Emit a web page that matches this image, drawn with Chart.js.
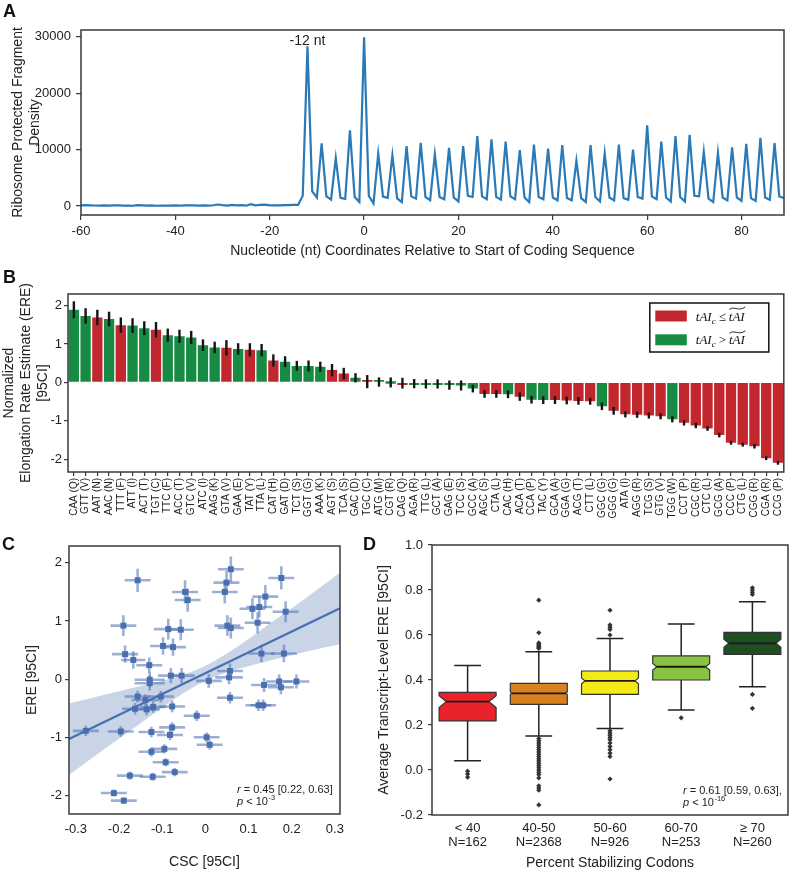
<!DOCTYPE html>
<html>
<head>
<meta charset="utf-8">
<script src="https://cdn.jsdelivr.net/npm/chart.js@4.4.1/dist/chart.umd.min.js"></script>
<style>
body { margin: 0; background: #fff; width: 792px; height: 873px; position: relative; overflow: hidden; }
canvas { position: absolute; }
</style>
</head>
<body>
<canvas id="chartA" width="792" height="265" style="left:0;top:0"></canvas>
<canvas id="chartB" width="792" height="265" style="left:0;top:265px"></canvas>
<canvas id="chartC" width="365" height="343" style="left:0;top:530px"></canvas>
<canvas id="chartD" width="437" height="343" style="left:355px;top:530px"></canvas>
<script>
// ---------- A: footprint density around the start codon
const ntStart = -60;
const fragmentDensity = [
  100,150,120,80,60,90,70,100,90,60,
  80,40,150,120,60,90,40,60,80,70,
  100,60,110,90,120,80,100,70,130,260,
  140,60,180,90,150,50,320,120,200,240,
  110,130,90,140,160,180,190,
  1800,28300,2600,1500,11100,1700,1150,8500,1450,1250,13400,1600,700,
  29900,1800,450,9300,1650,1450,9000,1350,700,
  10600,1700,1300,11200,1600,1000,9150,1600,1200,
  10300,1500,800,10600,1800,1600,12400,1700,1200,
  11800,1600,1100,11400,1700,1200,9900,1500,700,
  10900,1600,1200,10150,1500,1000,10800,1400,1000,
  8000,1400,700,10800,1600,800,9300,1500,1000,
  10900,1400,1100,10000,1600,1300,14300,1700,1200,
  11400,1500,800,12400,1600,800,12600,1800,1700,
  9600,1300,700,9400,1500,1000,10400,1500,900,
  11000,1400,900,12100,1500,1100,11150,1700,1400
];
const ntTicks = [-60, -40, -20, 0, 20, 40, 60, 80];
const densityTicks = [0, 10000, 20000, 30000];

// ---------- B: codon elongation rate estimates
const codons = ['CAA (Q)','GTT (V)','AAT (N)','AAC (N)','TTT (F)','ATT (I)','ACT (T)','TGT (C)','TTC (F)','ACC (T)',
  'GTC (V)','ATC (I)','AAG (K)','GTA (V)','GAA (E)','TAT (Y)','TTA (L)','CAT (H)','GAT (D)','TCT (S)',
  'GGT (G)','AAA (K)','AGT (S)','TCA (S)','GAC (D)','TGC (C)','ATG (M)','CGT (R)','CAG (Q)','AGA (R)',
  'TTG (L)','GCT (A)','GAG (E)','TCC (S)','GCC (A)','AGC (S)','CTA (L)','CAC (H)','ACA (T)','CCA (P)',
  'TAC (Y)','GCA (A)','GGA (G)','ACG (T)','CTT (L)','GGC (G)','GGG (G)','ATA (I)','AGG (R)','TCG (S)',
  'GTG (V)','TGG (W)','CCT (P)','CGC (R)','CTC (L)','GCG (A)','CCC (P)','CTG (L)','CGG (R)','CGA (R)',
  'CCG (P)'];
const ereValues = [1.89,1.73,1.69,1.65,1.49,1.48,1.41,1.37,1.23,1.20,
  1.17,0.97,0.91,0.90,0.87,0.85,0.84,0.57,0.54,0.43,
  0.43,0.41,0.32,0.23,0.12,0.02,0.01,0.00,-0.02,-0.03,
  -0.04,-0.04,-0.07,-0.08,-0.16,-0.30,-0.30,-0.31,-0.37,-0.45,
  -0.46,-0.46,-0.47,-0.48,-0.49,-0.62,-0.74,-0.83,-0.84,-0.86,
  -0.88,-0.96,-1.05,-1.12,-1.20,-1.37,-1.57,-1.62,-1.66,-1.97,
  -2.09];
const ereErrors = [0.22,0.20,0.20,0.19,0.20,0.19,0.18,0.20,0.17,0.17,
  0.17,0.15,0.15,0.20,0.15,0.17,0.16,0.16,0.14,0.13,
  0.14,0.13,0.16,0.15,0.12,0.17,0.12,0.13,0.14,0.12,
  0.12,0.12,0.12,0.13,0.10,0.10,0.10,0.10,0.11,0.10,
  0.10,0.10,0.10,0.10,0.09,0.10,0.10,0.08,0.08,0.08,
  0.08,0.08,0.07,0.07,0.06,0.06,0.05,0.05,0.06,0.05,
  0.05];
// 1 = tAI_c <= median tAI (red), 0 = above (green)
const tAIBelowMedian = [0,0,1,0,1,0,0,1,0,0,
  0,0,0,1,0,1,0,1,0,0,
  0,0,1,1,0,1,0,0,1,0,
  0,0,0,0,0,1,1,0,1,0,
  0,1,1,1,1,0,1,1,1,1,
  1,0,1,1,1,1,1,1,1,1,
  1];
const ereTicks = [-2, -1, 0, 1, 2];

// ---------- C: CSC vs ERE
const cscValues = [-0.190,-0.086,-0.057,-0.098,-0.075,-0.186,-0.167,-0.130,-0.129,-0.129,
  -0.080,-0.055,0.008,0.057,0.055,-0.157,-0.103,-0.139,-0.163,-0.136,
  -0.121,-0.077,0.057,0.136,0.171,0.175,0.211,0.130,0.182,0.121,
  0.109,0.186,0.051,0.059,0.123,0.134,-0.020,-0.077,-0.082,-0.125,
  -0.196,-0.277,0.003,0.010,-0.095,-0.125,-0.092,-0.071,-0.175,-0.122,
  -0.212,-0.189,-0.157,0.059,0.176,0.049,-0.047,0.045,-0.041,0.139,
  0.125];
const cscErrors = [0.030,0.033,0.030,0.030,0.030,0.030,0.028,0.030,0.035,0.035,
  0.030,0.030,0.030,0.030,0.032,0.030,0.030,0.032,0.030,0.030,
  0.030,0.030,0.030,0.030,0.030,0.030,0.030,0.030,0.030,0.030,
  0.030,0.030,0.030,0.030,0.030,0.030,0.030,0.030,0.030,0.030,
  0.030,0.030,0.030,0.030,0.030,0.030,0.030,0.030,0.030,0.030,
  0.030,0.030,0.030,0.030,0.030,0.030,0.030,0.030,0.030,0.030,
  0.030];
const ereScatter = [0.92,0.86,0.85,0.57,0.55,0.43,0.33,0.24,-0.01,-0.07,
  0.06,0.06,-0.03,0.14,0.03,-0.30,-0.30,-0.36,-0.51,-0.52,
  -0.48,-0.47,-0.32,-0.10,-0.04,-0.14,-0.04,0.44,0.44,0.97,
  1.21,1.16,0.92,0.88,-0.45,-0.45,-0.63,-0.83,-0.96,-0.91,
  -0.90,-0.89,-1.00,-1.13,-1.20,-1.25,-1.43,-1.60,-1.66,-1.68,
  -1.96,-2.09,1.70,1.89,1.74,1.66,1.50,1.50,1.36,1.42,
  1.24];
const ereScatterErrors = [0.18,0.18,0.18,0.15,0.15,0.15,0.15,0.13,0.13,0.13,
  0.13,0.13,0.12,0.13,0.12,0.10,0.10,0.10,0.10,0.10,
  0.10,0.10,0.10,0.12,0.12,0.12,0.12,0.15,0.15,0.18,
  0.18,0.18,0.18,0.18,0.10,0.10,0.09,0.09,0.09,0.09,
  0.09,0.09,0.08,0.08,0.08,0.08,0.07,0.07,0.07,0.07,
  0.06,0.06,0.20,0.22,0.20,0.20,0.20,0.20,0.20,0.20,
  0.18];
const fitX = [-0.316, 0.312];
const fitY = [-1.03, 1.22];
const bandX = [-0.316,-0.25,-0.2,-0.15,-0.1,-0.05,0,0.05,0.1,0.15,0.2,0.25,0.312];
const bandUpper = [-0.42,-0.30,-0.21,-0.12,-0.03,0.08,0.23,0.44,0.69,0.96,1.22,1.49,1.83];
const bandLower = [-1.65,-1.29,-1.02,-0.76,-0.49,-0.24,-0.03,0.12,0.22,0.32,0.41,0.50,0.60];
const cscTicks = [-0.3, -0.2, -0.1, 0, 0.1, 0.2, 0.3];

// ---------- D: transcript-level ERE by percent stabilizing codons
const stabGroups = ['< 40', '40-50', '50-60', '60-70', '≥ 70'];
const stabCounts = [162, 2368, 926, 253, 260];
const boxQ1 = [0.218, 0.292, 0.336, 0.400, 0.514];
const boxMedian = [0.304, 0.341, 0.396, 0.459, 0.563];
const boxQ3 = [0.345, 0.385, 0.440, 0.507, 0.612];
const notchLow = [0.278, 0.335, 0.383, 0.444, 0.545];
const notchHigh = [0.330, 0.347, 0.409, 0.474, 0.581];
const whiskerLow = [0.041, 0.151, 0.185, 0.267, 0.370];
const whiskerHigh = [0.464, 0.526, 0.585, 0.649, 0.748];
const outliers = [
  [-0.005, -0.018, -0.032],
  [0.54, 0.545, 0.55, 0.555, 0.56, 0.565, 0.61, 0.755,
   0.14, 0.13, 0.12, 0.11, 0.10, 0.09, 0.08, 0.07, 0.06, 0.05, 0.04, 0.03, 0.02, 0.01, 0.0,
   -0.01, -0.02, -0.035, -0.07, -0.08, -0.09, -0.155],
  [0.60, 0.625, 0.635, 0.645, 0.71,
   0.175, 0.165, 0.155, 0.145, 0.135, 0.12, 0.105, 0.09, 0.075, 0.06, -0.04],
  [0.232],
  [0.78, 0.79, 0.80, 0.81, 0.336, 0.274]
];
const transcriptTicks = [-0.2, 0, 0.2, 0.4, 0.6, 0.8, 1.0];

// ---------- shared look
const FONT = "'Liberation Sans', Arial, Helvetica, sans-serif";
Chart.defaults.font.family = FONT;
Chart.defaults.color = '#222';
Chart.defaults.animation = false;
Chart.defaults.plugins.legend.display = false;
Chart.defaults.plugins.tooltip.enabled = false;

const AXIS = '#3a3a3a';
const RED = '#c1272d';
const GREEN = '#178a43';
const BLUE = '#4a6fb0';
const BOX_COLORS = ['#e8232a', '#d9801f', '#f4ea16', '#88c442', '#1f4f21'];

function fixedTicks(values) {
  return scale => { scale.ticks = values.map(v => ({ value: v })); };
}

const framePlugin = {
  id: 'frame',
  afterDraw(chart) {
    const { ctx, chartArea: a } = chart;
    ctx.save();
    ctx.strokeStyle = AXIS;
    ctx.lineWidth = 1.5;
    ctx.strokeRect(a.left, a.top, a.right - a.left, a.bottom - a.top);
    ctx.restore();
  }
};

function panelLetter(letter, x, y) {
  return {
    id: 'letter' + letter,
    afterDraw(chart) {
      const ctx = chart.ctx;
      ctx.save();
      ctx.font = 'bold 18px ' + FONT;
      ctx.fillStyle = '#111';
      ctx.textBaseline = 'middle';
      ctx.fillText(letter, x, y);
      ctx.restore();
    }
  };
}

function drawStats(ctx, x, y, rText, pExp) {
  ctx.save();
  ctx.fillStyle = '#222';
  ctx.textBaseline = 'middle';
  let cx = x;
  ctx.font = 'italic 11px ' + FONT;
  ctx.fillText('r', cx, y);
  cx += ctx.measureText('r').width;
  ctx.font = '11px ' + FONT;
  ctx.fillText(' = ' + rText, cx, y);
  const y2 = y + 12;
  cx = x;
  ctx.font = 'italic 11px ' + FONT;
  ctx.fillText('p', cx, y2);
  cx += ctx.measureText('p').width;
  ctx.font = '11px ' + FONT;
  ctx.fillText(' < 10', cx, y2);
  cx += ctx.measureText(' < 10').width;
  ctx.font = '7.5px ' + FONT;
  ctx.fillText(pExp, cx + 0.5, y2 - 4);
  ctx.restore();
}

function tickGrid(len) {
  return { display: true, drawOnChartArea: false, drawTicks: true, tickLength: len, color: AXIS, lineWidth: 1.2 };
}

// ---------- A
new Chart(document.getElementById('chartA'), {
  type: 'line',
  data: {
    datasets: [{
      data: fragmentDensity.map((v, i) => ({ x: ntStart + i, y: v })),
      borderColor: '#2a7ab8',
      borderWidth: 2.2,
      pointRadius: 0,
      tension: 0
    }]
  },
  options: {
    responsive: false,
    layout: { padding: { top: 30, right: 8, left: 0, bottom: 0 } },
    scales: {
      x: {
        type: 'linear', min: -60, max: 89,
        afterBuildTicks: fixedTicks(ntTicks),
        ticks: { font: { size: 13 }, padding: 4, color: '#222', callback: v => String(v) },
        grid: tickGrid(5),
        border: { display: false },
        title: { display: true, text: 'Nucleotide (nt) Coordinates Relative to Start of Coding Sequence',
          font: { size: 14 }, color: '#222', padding: { top: 0, bottom: 5 } },
        afterFit: s => { s.height = 50; }
      },
      y: {
        min: -1600, max: 31200,
        afterBuildTicks: fixedTicks(densityTicks),
        ticks: { font: { size: 13 }, padding: 5, color: '#222', callback: v => String(v) },
        grid: tickGrid(5),
        border: { display: false },
        title: { display: true, text: ['Ribosome Protected Fragment', 'Density'],
          font: { size: 14 }, color: '#222', padding: { top: 10, bottom: 0 } },
        afterFit: s => { s.width = 81; }
      }
    }
  },
  plugins: [framePlugin, panelLetter('A', 3, 12), {
    id: 'peakLabel',
    afterDatasetsDraw(chart) {
      const { ctx, scales: { x, y } } = chart;
      ctx.save();
      ctx.font = '14px ' + FONT;
      ctx.fillStyle = '#222';
      ctx.textAlign = 'center';
      ctx.textBaseline = 'middle';
      ctx.fillText('-12 nt', x.getPixelForValue(-12), y.getPixelForValue(29200));
      ctx.restore();
    }
  }]
});

// ---------- B
function drawTaiLabel(ctx, x, y, op) {
  const serif = "'Liberation Serif', 'DejaVu Serif', serif";
  const base = y + 4.5;
  ctx.fillStyle = '#111';
  ctx.textBaseline = 'alphabetic';
  ctx.font = 'italic 13px ' + serif;
  ctx.fillText('tAI', x, base);
  let cx = x + ctx.measureText('tAI').width;
  ctx.font = 'italic 9px ' + serif;
  ctx.fillText('c', cx, base + 3);
  cx += ctx.measureText('c').width + 3;
  ctx.font = '13px ' + serif;
  ctx.fillText(op, cx, base);
  cx += ctx.measureText(op).width + 3;
  ctx.font = 'italic 13px ' + serif;
  ctx.fillText('tAI', cx, base);
  const w = ctx.measureText('tAI').width;
  const ty = base - 12.5;
  ctx.strokeStyle = '#111';
  ctx.lineWidth = 0.9;
  ctx.beginPath();
  ctx.moveTo(cx + 0.5, ty + 1.5);
  ctx.bezierCurveTo(cx + w * 0.35, ty - 2.5, cx + w * 0.6, ty + 4, cx + w + 0.5, ty - 1);
  ctx.stroke();
}

new Chart(document.getElementById('chartB'), {
  type: 'bar',
  data: {
    labels: codons,
    datasets: [{
      data: ereValues,
      backgroundColor: tAIBelowMedian.map(f => f ? RED : GREEN),
      borderWidth: 0,
      minBarLength: 2.5,
      barPercentage: 0.88,
      categoryPercentage: 1
    }]
  },
  options: {
    responsive: false,
    layout: { padding: { top: 29, right: 8, left: 0, bottom: 0 } },
    scales: {
      x: {
        ticks: { font: { size: 10 }, color: '#222', autoSkip: false, minRotation: 90, maxRotation: 90, padding: 2 },
        grid: Object.assign(tickGrid(4), { offset: false }),
        border: { display: false },
        afterFit: s => { s.height = 58; }
      },
      y: {
        min: -2.33, max: 2.3,
        afterBuildTicks: fixedTicks(ereTicks),
        ticks: { font: { size: 13 }, padding: 2, color: '#222', callback: v => String(v) },
        grid: tickGrid(4),
        border: { display: false },
        title: { display: true, text: ['Normalized', 'Elongation Rate Estimate (ERE)', '[95CI]'],
          font: { size: 14 }, color: '#222', padding: { top: 1, bottom: 0 } },
        afterFit: s => { s.width = 68; }
      }
    }
  },
  plugins: [framePlugin, panelLetter('B', 3, 13), {
    id: 'ereErrorBars',
    afterDatasetsDraw(chart) {
      const { ctx, scales: { y } } = chart;
      const meta = chart.getDatasetMeta(0);
      ctx.save();
      ctx.strokeStyle = '#151515';
      ctx.lineWidth = 2.4;
      meta.data.forEach((bar, i) => {
        ctx.beginPath();
        ctx.moveTo(bar.x, y.getPixelForValue(ereValues[i] - ereErrors[i]));
        ctx.lineTo(bar.x, y.getPixelForValue(ereValues[i] + ereErrors[i]));
        ctx.stroke();
      });
      ctx.restore();
    }
  }, {
    id: 'tAILegend',
    afterDraw(chart) {
      const { ctx, chartArea: a } = chart;
      const bx = a.right - 134, by = a.top + 9, bw = 119, bh = 49;
      ctx.save();
      ctx.fillStyle = '#fff';
      ctx.fillRect(bx, by, bw, bh);
      ctx.strokeStyle = '#111';
      ctx.lineWidth = 1.5;
      ctx.strokeRect(bx, by, bw, bh);
      [[RED, '≤'], [GREEN, '>']].forEach(([color, op], k) => {
        const rowY = by + 13 + k * 23.8;
        ctx.fillStyle = color;
        ctx.fillRect(bx + 5.5, rowY - 5.5, 31.5, 11);
        drawTaiLabel(ctx, bx + 46, rowY, op);
      });
      ctx.restore();
    }
  }]
});

// ---------- C
new Chart(document.getElementById('chartC'), {
  type: 'scatter',
  data: {
    datasets: [
      {
        data: cscValues.map((v, i) => ({ x: v, y: ereScatter[i] })),
        pointStyle: 'rect', pointRadius: 4.2,
        backgroundColor: BLUE, borderColor: BLUE, borderWidth: 0,
        order: 1
      },
      {
        type: 'line',
        data: fitX.map((v, i) => ({ x: v, y: fitY[i] })),
        borderColor: BLUE, borderWidth: 2.2, pointRadius: 0,
        order: 2
      },
      {
        type: 'line',
        data: bandX.map((v, i) => ({ x: v, y: bandUpper[i] })),
        borderWidth: 0, pointRadius: 0, cubicInterpolationMode: 'monotone',
        order: 3
      },
      {
        type: 'line',
        data: bandX.map((v, i) => ({ x: v, y: bandLower[i] })),
        borderWidth: 0, pointRadius: 0, cubicInterpolationMode: 'monotone',
        fill: '-1', backgroundColor: 'rgba(76,114,176,0.3)',
        order: 3
      }
    ]
  },
  options: {
    responsive: false,
    layout: { padding: { top: 16, right: 25, left: 0, bottom: 0 } },
    scales: {
      x: {
        type: 'linear', min: -0.316, max: 0.312,
        afterBuildTicks: fixedTicks(cscTicks),
        ticks: { font: { size: 13 }, padding: 8, color: '#222', callback: v => v === 0 ? '0' : v.toFixed(1) },
        grid: { display: false, drawTicks: false },
        border: { display: false },
        title: { display: true, text: 'CSC [95CI]', font: { size: 14 }, color: '#222', padding: { top: 0, bottom: 2.5 } },
        afterFit: s => { s.height = 59; }
      },
      y: {
        min: -2.32, max: 2.29,
        afterBuildTicks: fixedTicks(ereTicks),
        ticks: { font: { size: 13 }, padding: 3, color: '#222', callback: v => String(v) },
        grid: tickGrid(4),
        border: { display: false },
        title: { display: true, text: 'ERE [95CI]', font: { size: 14 }, color: '#222', padding: { top: 23.5, bottom: 0 } },
        afterFit: s => { s.width = 69; }
      }
    }
  },
  plugins: [framePlugin, panelLetter('C', 2, 15), {
    id: 'cscErrorBars',
    afterDatasetDraw(chart, args) {
      if (args.index !== 2) return;
      const { ctx, scales: { x, y } } = chart;
      ctx.save();
      ctx.strokeStyle = 'rgba(74,111,176,0.55)';
      ctx.lineWidth = 2.6;
      cscValues.forEach((cx, i) => {
        const px = x.getPixelForValue(cx), py = y.getPixelForValue(ereScatter[i]);
        ctx.beginPath();
        ctx.moveTo(x.getPixelForValue(cx - cscErrors[i]), py);
        ctx.lineTo(x.getPixelForValue(cx + cscErrors[i]), py);
        ctx.moveTo(px, y.getPixelForValue(ereScatter[i] - ereScatterErrors[i]));
        ctx.lineTo(px, y.getPixelForValue(ereScatter[i] + ereScatterErrors[i]));
        ctx.stroke();
      });
      ctx.restore();
    },
    afterDraw(chart) {
      const a = chart.chartArea;
      drawStats(chart.ctx, a.right - 103, a.bottom - 24, '0.45 [0.22, 0.63]', '-3');
    }
  }]
});

// ---------- D
new Chart(document.getElementById('chartD'), {
  type: 'bar',
  data: {
    labels: stabGroups,
    datasets: [
      {
        data: boxQ1.map((v, i) => [v, boxQ3[i]]),
        backgroundColor: 'rgba(0,0,0,0)', borderWidth: 0,
        barPercentage: 0.8, categoryPercentage: 1
      },
      {
        type: 'line', showLine: false,
        data: outliers.flatMap((vals, i) => vals.map(v => ({ x: stabGroups[i], y: v }))),
        pointStyle: 'rectRot', pointRadius: 2.6,
        backgroundColor: '#333', borderColor: '#333', borderWidth: 0
      }
    ]
  },
  options: {
    responsive: false,
    layout: { padding: { top: 15, right: 2, left: 0, bottom: 0 } },
    scales: {
      x: {
        ticks: { font: { size: 13, lineHeight: 1.1 }, padding: 6, color: '#222',
          callback: (v, i) => [stabGroups[i], 'N=' + stabCounts[i]] },
        grid: { display: false, drawTicks: false },
        border: { display: false },
        title: { display: true, text: 'Percent Stabilizing Codons', font: { size: 14 }, color: '#222', padding: { top: 0, bottom: 1.5 } },
        afterFit: s => { s.height = 58; }
      },
      y: {
        min: -0.2, max: 1.0,
        afterBuildTicks: fixedTicks(transcriptTicks),
        ticks: { font: { size: 13 }, padding: 5, color: '#222', callback: v => v.toFixed(1) },
        grid: tickGrid(4),
        border: { display: false },
        title: { display: true, text: 'Average Transcript-Level ERE [95CI]', font: { size: 14 }, color: '#222', padding: { top: 20.5, bottom: 0 } },
        afterFit: s => { s.width = 77; }
      }
    }
  },
  plugins: [framePlugin, panelLetter('D', 8, 15), {
    id: 'notchedBoxes',
    beforeDatasetsDraw(chart) {
      const { ctx, scales: { y } } = chart;
      const meta = chart.getDatasetMeta(0);
      const py = v => y.getPixelForValue(v);
      ctx.save();
      meta.data.forEach((bar, i) => {
        const cx = bar.x, hw = bar.width / 2, left = cx - hw, right = cx + hw;
        const inset = 1.2 * (py(notchLow[i]) - py(notchHigh[i])) / 2;
        const capHalf = hw * 0.47;
        ctx.strokeStyle = '#222';
        ctx.lineWidth = 1.5;
        ctx.beginPath();
        ctx.moveTo(cx, py(boxQ3[i])); ctx.lineTo(cx, py(whiskerHigh[i]));
        ctx.moveTo(cx, py(boxQ1[i])); ctx.lineTo(cx, py(whiskerLow[i]));
        ctx.moveTo(cx - capHalf, py(whiskerHigh[i])); ctx.lineTo(cx + capHalf, py(whiskerHigh[i]));
        ctx.moveTo(cx - capHalf, py(whiskerLow[i])); ctx.lineTo(cx + capHalf, py(whiskerLow[i]));
        ctx.stroke();

        ctx.beginPath();
        ctx.moveTo(left, py(boxQ1[i]));
        ctx.lineTo(left, py(notchLow[i]));
        ctx.lineTo(left + inset, py(boxMedian[i]));
        ctx.lineTo(left, py(notchHigh[i]));
        ctx.lineTo(left, py(boxQ3[i]));
        ctx.lineTo(right, py(boxQ3[i]));
        ctx.lineTo(right, py(notchHigh[i]));
        ctx.lineTo(right - inset, py(boxMedian[i]));
        ctx.lineTo(right, py(notchLow[i]));
        ctx.lineTo(right, py(boxQ1[i]));
        ctx.closePath();
        ctx.fillStyle = BOX_COLORS[i];
        ctx.fill();
        ctx.strokeStyle = '#333';
        ctx.lineWidth = 1.2;
        ctx.stroke();

        ctx.strokeStyle = '#1a1a1a';
        ctx.lineWidth = 1.8;
        ctx.beginPath();
        ctx.moveTo(left + inset, py(boxMedian[i]));
        ctx.lineTo(right - inset, py(boxMedian[i]));
        ctx.stroke();
      });
      ctx.restore();
    },
    afterDraw(chart) {
      const a = chart.chartArea;
      drawStats(chart.ctx, a.right - 105, a.bottom - 24, '0.61 [0.59, 0.63],', '-16');
    }
  }]
});
</script>
</body>
</html>
